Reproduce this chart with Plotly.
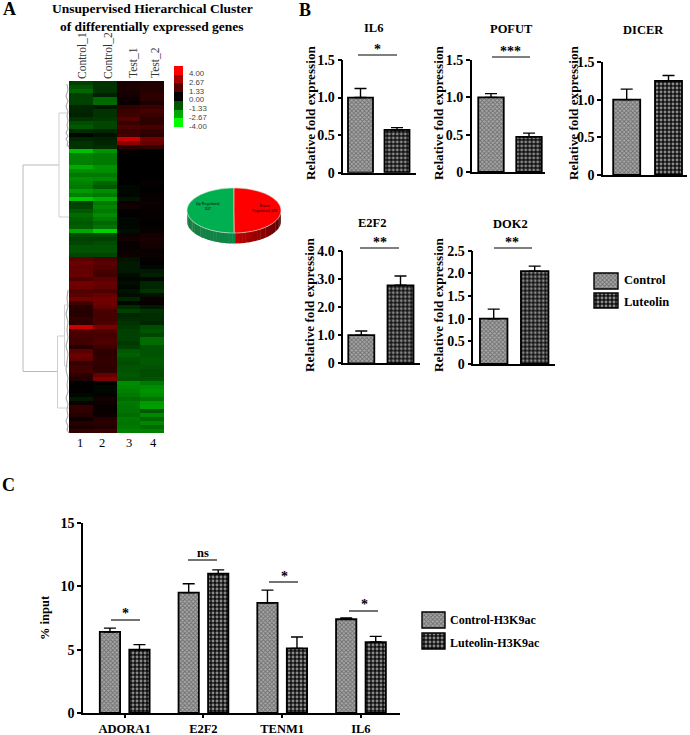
import math
import plotly.graph_objects as go

W, H = 690, 735
SERIF = "Liberation Serif"
SANS = "Liberation Sans"

# ---------- data ----------
samples = ["Control_1", "Control_2", "Test_1", "Test_2"]
control_1 = [-1,-1.3,-1.6,-1,-1,-1,-.6,-.6,-.5,-.8,-1.2,-1.4,-.7,-.1,-.6,-.8,-.8,-3,-2,-2,-2,-2.7,
             -2.2,-1.9,-2.2,-2,-1.9,-2.4,-2,-3.1,-1,-1.1,-1.4,-1.7,-1.5,-1.4,-1.5,-2.6,-1.2,-1,-1.1,-1.3,-1.3,-1.1,
             1.4,1.7,1.5,1.6,1.6,1.2,1.8,1.7,1.3,1.4,1.8,1,.6,.6,.6,.8,.7,3.2,1.2,1.1,1,1,.6,
             1.4,1.7,1.5,.8,1,1,.7,.5,0,0,0,-.1,-.4,.2,.8,.7,.6,.2,.6,.4,.8]
control_2 = [-.8,-.8,-.8,-.5,-1.6,-1.7,-.4,-.8,-.8,-.9,-1.1,-1.1,-.6,-.3,-.5,-.6,-.7,-2.3,-1.9,-1.9,-1.9,-2.3,
             -2.2,-1.9,-2.1,-1.6,-1.4,-2.2,-1.9,-2.7,-1.9,-2.1,-1.9,-2.2,-1.9,-1.6,-1.8,-3.3,-1.2,-1,-1.2,-1.3,-1.3,-1.1,
             1.2,1.4,1.3,1.1,1,1.4,1.6,1.5,1.2,1.6,1.8,1.7,1.5,1.1,1.1,1.1,1.2,1.9,1.2,1.1,1.2,1.2,1,
             .7,.7,.8,.8,.7,.8,1.6,2,0,-.1,-.1,.1,.3,.2,.1,.1,.2,.6,.7,.5,.9]
test_1 = [.4,.4,.4,.3,.2,.1,.8,.9,1,1.3,.9,1.2,.9,1,3.2,2.2,.7,.1,0,0,0,0,
          0,0,0,0,-.1,-.1,-.1,-.3,.2,.3,0,0,-.1,-.1,-.1,-.2,.2,.3,.1,.1,.2,.2,
          -.3,-.4,-.4,-.4,-.2,-.1,-.2,-.1,-.3,-.2,-.6,-.1,-.7,-1,-.6,-.7,-.8,-.9,-1,-1,-1,-.9,-1,
          -1.4,-1.5,-1.3,-1.2,-1.3,-1.3,-1.4,-1.3,-2.2,-2.1,-2,-1.9,-1.7,-1.9,-1.8,-1.8,-1.7,-1.9,-1.8,-1.9,-2]
test_2 = [.5,.5,.6,.7,.7,.4,.9,1.1,.9,.7,.7,1.1,.8,.7,1.8,1.6,.8,0,0,0,0,0,
          0,0,0,.1,0,0,.1,.1,.2,.1,.1,.1,.1,0,.1,.1,.3,.4,.3,.3,.1,.2,
          .1,0,-.1,-.4,-.5,-.1,-.6,-.6,-.8,-.3,.2,.1,-.4,-.8,-.7,-.7,-.6,-1.2,-1.3,-1.1,-1.7,-1.7,-1.3,
          -1.3,-1.3,-1.4,-1.4,-1.3,-1.2,-1.2,-1.3,-1.9,-2.2,-2.3,-2.2,-1.8,-2.4,-2.5,-1.4,-2.1,-1.6,-2.1,-1.7,-2]
scale_values = [4.00, 2.67, 1.33, 0.00, -1.33, -2.67, -4.00]

pie_labels = ["Up Regulated,\n537", "Down\nRegulated, 535"]
pie_values = [537, 535]

groups = ["Control", "Luteolin"]
il6_mean, il6_err = [1.00, 0.57], [0.12, 0.03]
pofut_mean, pofut_err = [1.00, 0.47], [0.05, 0.05]
dicer_mean, dicer_err = [1.00, 1.25], [0.14, 0.07]
e2f2_mean, e2f2_err = [1.00, 2.77], [0.15, 0.33]
dok2_mean, dok2_err = [1.00, 2.05], [0.21, 0.11]

genes_c = ["ADORA1", "E2F2", "TENM1", "IL6"]
h3k9_control = [6.4, 9.5, 8.7, 7.4]
h3k9_control_err = [0.3, 0.7, 1.0, 0.1]
h3k9_luteolin = [5.0, 11.0, 5.1, 5.6]
h3k9_luteolin_err = [0.4, 0.3, 0.9, 0.45]
sig_c = ["*", "ns", "*", "*"]

# ---------- helpers ----------
fig = go.Figure()
layout = {}
naxes = [0]

def new_axes(x0, x1, y0, y1, xa, ya):
    naxes[0] += 1
    n = naxes[0]
    s = "" if n == 1 else str(n)
    xa = dict(xa, domain=[x0 / W, x1 / W], anchor="y" + s, automargin=False)
    ya = dict(ya, domain=[1 - y1 / H, 1 - y0 / H], anchor="x" + s, automargin=False)
    layout["xaxis" + s] = xa
    layout["yaxis" + s] = ya
    return "x" + s, "y" + s

CTRL = dict(shape="x", size=3, solidity=0.5, fgcolor="#333333", bgcolor="#a8a8a8")
LUT = dict(shape=".", size=4, solidity=0.42, fgcolor="#ffffff", bgcolor="#111111")

def axis_base():
    return dict(showgrid=False, zeroline=False, showline=True, linecolor="black",
                ticks="outside", tickcolor="black", fixedrange=True,
                tickfont=dict(family=SERIF, size=14, color="black", weight=700))

def bar_panel(box, c1, c2, w, means, errs, top, ticks, ticktext):
    x0, x1, y0, y1 = box
    u = c2 - c1
    xa = axis_base(); ya = axis_base()
    xa.update(type="linear", range=[(x0 - c1) / u, (x1 - c1) / u], showticklabels=False,
              ticks="", linewidth=2)
    ya.update(range=[0, top], tickvals=ticks, ticktext=ticktext, linewidth=1.5, ticklen=4, tickwidth=1.5)
    xr, yr = new_axes(x0, x1, y0, y1, xa, ya)
    for i, (m, e, pat) in enumerate(zip(means, errs, [CTRL, LUT])):
        fig.add_trace(go.Bar(x=[i], y=[m], name=groups[i], width=w / u, xaxis=xr, yaxis=yr,
                             marker=dict(pattern=pat, line=dict(color="black", width=1.8)),
                             error_y=dict(type="data", symmetric=False, array=[e], arrayminus=[0],
                                          color="black", thickness=1.4, width=6)))

# ---------- heat map ----------
rows = list(range(len(control_1)))
hx, hy = new_axes(69, 164, 81, 433,
                  dict(visible=False, fixedrange=True),
                  dict(visible=False, autorange="reversed", fixedrange=True))
cs = [[0, "#00ff00"], [0.5, "#000000"], [1, "#ff0000"]]
fig.add_trace(go.Heatmap(z=[list(r) for r in zip(control_1, control_2, test_1, test_2)],
                         x=samples, y=rows, xaxis=hx, yaxis=hy, zmin=-4, zmax=4,
                         colorscale=cs, showscale=False))

# colour key
kx, ky = new_axes(174, 183, 66, 127,
                  dict(visible=False, fixedrange=True),
                  dict(visible=False, autorange="reversed", fixedrange=True))
fig.add_trace(go.Heatmap(z=[[v] for v in scale_values], y=[f"{v:.2f}" for v in scale_values],
                         x=["key"], xaxis=kx, yaxis=ky, zmin=-4, zmax=4, colorscale=cs, showscale=False))

# ---------- panel B ----------
bar_panel((343.3, 416, 60, 172.7), 360.5, 397, 25, il6_mean, il6_err, 1.5, [0, .5, 1, 1.5], ["0", "0.5", "1.0", "1.5"])
bar_panel((471.7, 545, 60, 172), 491, 529, 25.5, pofut_mean, pofut_err, 1.5, [0, .5, 1, 1.5], ["0", "0.5", "1.0", "1.5"])
bar_panel((603, 687, 62, 175), 626.7, 668.5, 27, dicer_mean, dicer_err, 1.5, [0, .5, 1, 1.5], ["0", "0.5", "1.0", "1.5"])
bar_panel((343.3, 420, 250.7, 363.3), 361.3, 400.5, 26, e2f2_mean, e2f2_err, 4, [0, 1, 2, 3, 4], ["0", "1.0", "2.0", "3.0", "4.0"])
bar_panel((473.3, 555, 250.7, 364), 493.7, 534.7, 27.5, dok2_mean, dok2_err, 2.5, [0, .5, 1, 1.5, 2, 2.5], ["0", "0.5", "1.0", "1.5", "2.0", "2.5"])

# ---------- panel C ----------
xa = axis_base(); ya = axis_base()
u = 79.5  # pixels per gene
c_first = 122.0
xa.update(type="linear", range=[(80 - c_first) / u, (400 - c_first) / u], tickvals=list(range(4)),
          ticktext=genes_c, linewidth=2, ticklen=3, tickwidth=1.5)
xa["tickfont"] = dict(family=SERIF, size=12.5, color="black", weight=700)
ya.update(range=[0, 15], tickvals=[0, 5, 10, 15], linewidth=1.5, ticklen=4, tickwidth=1.5)
cxr, cyr = new_axes(83, 400, 523, 713, xa, ya)
for series, err, pat, name, off in ((h3k9_control, h3k9_control_err, CTRL, "Control-H3K9ac", -14.8),
                                    (h3k9_luteolin, h3k9_luteolin_err, LUT, "Luteolin-H3K9ac", 15.0)):
    fig.add_trace(go.Bar(x=[i + off / u for i in range(4)], y=series, name=name, width=20.5 / u,
                         xaxis=cxr, yaxis=cyr,
                         marker=dict(pattern=pat, line=dict(color="black", width=1.8)),
                         error_y=dict(type="data", symmetric=False, array=err, arrayminus=[0] * 4,
                                      color="black", thickness=1.4, width=6)))

# ---------- pixel canvas for annotation-style items ----------
cx, cy = new_axes(0, W, 0, H,
                  dict(visible=False, range=[0, W], autorange=False, fixedrange=True),
                  dict(visible=False, range=[H, 0], autorange=False, fixedrange=True))

def line(xs, ys, color="black", width=1.0):
    fig.add_trace(go.Scatter(x=xs, y=ys, mode="lines", xaxis=cx, yaxis=cy,
                             line=dict(color=color, width=width), hoverinfo="skip"))

# dendrogram
DG = "#b9b9b9"
line([59, 23, 23, 57], [165, 165, 371.5, 371.5], DG)
line([68, 59, 59, 69], [113, 113, 217, 217], "#cfcfcf")
line([64, 57.5, 57.5, 69], [336, 336, 408, 408], "#cfcfcf")
line([68, 64.5, 64.5, 68], [305, 305, 366, 366], "#cfcfcf")
line([67, 68, 66, 68, 66, 68, 67, 68, 67, 68, 66, 68, 66, 68, 67, 69],
     [84, 90, 96, 101, 106, 112, 116, 121, 125, 129, 133, 136, 139, 142, 145, 147], "#a8a8a8", 1.1)
line([68, 67, 68, 66, 68, 67, 68, 66, 68, 67, 66, 68, 67, 68, 66, 68, 67, 68, 66, 68, 67, 69],
     [290, 298, 306, 314, 322, 330, 338, 346, 354, 362, 370, 378, 385, 392, 398, 404, 410, 416, 421, 426, 430, 433], "#a8a8a8", 1.1)

# significance bars
for xs, y in (([358, 397], 55), ([492, 530], 57), ([360, 399], 248), ([494, 532], 248),
              ([111, 140], 620), ([188, 217], 560), ([269, 298], 582), ([349, 378], 611)):
    line(xs, [y, y], width=1.1)

# legend swatches
for (xa_, xb, ya_, yb, pat, name) in ((594, 618, 273, 289, CTRL, "Control"), (594, 618, 293, 308, LUT, "Luteolin"),
                                      (422, 445, 612, 628, CTRL, "Control-H3K9ac"), (422, 445, 633, 649, LUT, "Luteolin-H3K9ac")):
    fig.add_trace(go.Bar(x=[(xa_ + xb) / 2], y=[yb - ya_], base=[ya_], width=xb - xa_, xaxis=cx, yaxis=cy, name=name,
                         marker=dict(pattern=pat, line=dict(color="black", width=1.4))))

# pie (extruded, tilted)
pcx, pcy, rx, ry, depth = 234.0, 210.5, 47.0, 22.5, 10.5

def ell(a):
    return pcx + rx * math.cos(math.radians(a)), pcy - ry * math.sin(math.radians(a))

def mix(c1, c2, t):
    return "rgb(%d,%d,%d)" % tuple(round(p + (q - p) * t) for p, q in zip(c1, c2))

shapes = []
steps = 45
for k in range(steps):
    a0 = 180 + 180 * k / steps
    a1 = 180 + 180 * (k + 1) / steps + 0.6
    if a0 < 270:
        col = mix((30, 120, 65), (10, 135, 70), (a0 - 180) / 90)
    else:
        col = mix((190, 0, 0), (60, 0, 0), (a0 - 270) / 90)
    (xa_, ya_), (xb, yb) = ell(a0), ell(a1)
    shapes.append(dict(type="path", xref=cx, yref=cy, line_width=0, fillcolor=col,
                       path=f"M{xa_:.2f},{ya_:.2f} L{xb:.2f},{yb:.2f} L{xb:.2f},{yb + depth:.2f} L{xa_:.2f},{ya_ + depth:.2f} Z"))

def wedge(a0, a1, color):
    n = 40
    pts = [ell(a0 + (a1 - a0) * i / n) for i in range(n + 1)]
    d = f"M{pcx},{pcy} " + " ".join(f"L{x:.2f},{y:.2f}" for x, y in pts) + " Z"
    return dict(type="path", xref=cx, yref=cy, fillcolor=color, line=dict(color="#dfe8df", width=0.6), path=d)

shapes.append(wedge(90, 90 + 360 * pie_values[0] / sum(pie_values), "#00b050"))
shapes.append(wedge(90 + 360 * pie_values[0] / sum(pie_values), 450, "#ff0000"))
layout["shapes"] = shapes

# texts
def t(x, y, s, size=13, family=SERIF, bold=True, color="black", angle=0, anchor="center"):
    return dict(x=x, y=y, xref=cx, yref=cy, text=s, showarrow=False, textangle=angle, xanchor=anchor,
                yanchor="middle", align="center", font=dict(family=family, size=size, color=color, weight=700 if bold else 400))

ann = [
    t(9, 9, "A", 18), t(305, 10, "B", 18), t(8, 485, "C", 18),
    t(152, 8, "Unsupervised Hierarchical Cluster", 13.5),
    t(152, 26, "of differentially expressed genes", 13.5),
    t(82, 56, samples[0], 11.5, bold=False, color="#333", angle=-90),
    t(108, 56, samples[1], 11.5, bold=False, color="#333", angle=-90),
    t(133, 63, samples[2], 11.5, bold=False, color="#333", angle=-90),
    t(155, 63, samples[3], 11.5, bold=False, color="#333", angle=-90),
    t(80, 443, "1", 12.5, bold=False), t(101.5, 443, "2", 12.5, bold=False),
    t(129, 443, "3", 12.5, bold=False), t(153, 443, "4", 12.5, bold=False),
    t(373, 28, "IL6", 12.5), t(511, 29, "POFUT", 12.5), t(643, 30, "DICER", 12.5),
    t(372, 223, "E2F2", 12.5), t(510, 224, "DOK2", 12.5),
    t(377, 49, "*", 14), t(510, 51, "***", 14), t(380, 242, "**", 14), t(512, 242, "**", 14),
    t(125, 613, sig_c[0], 14), t(203, 553, sig_c[1], 12.5), t(284, 576, sig_c[2], 14), t(364, 604, sig_c[3], 14),
    t(622, 280, "Control", 12.5, anchor="left"), t(622, 302, "Luteolin", 12.5, anchor="left"),
    t(448, 620, "Control-H3K9ac", 12, anchor="left"), t(448, 643, "Luteolin-H3K9ac", 12, anchor="left"),
    t(45, 618, "% input", 12.5, angle=-90),
]
for x, y in ((310, 113), (438, 113), (573, 113), (309, 305), (438, 305)):
    ann.append(t(x, y, "Relative fold expression", 13.2, angle=-90))
for v, y in zip(scale_values, (73.5, 82, 91, 99.5, 108.5, 117, 126)):
    ann.append(t(187, y, f"{v:.2f}", 7.8, family=SANS, bold=False, color="#444", anchor="left"))
ann.append(t(208, 206, pie_labels[0].replace("\n", "<br>"), 3.6, family=SANS, color="#0b3d20"))
ann.append(t(264, 208, pie_labels[1].replace("\n", "<br>"), 3.6, family=SANS, color="#5a0000"))
layout["annotations"] = ann

fig.update_layout(width=W, height=H, autosize=False, margin=dict(l=0, r=0, t=0, b=0),
                  plot_bgcolor="rgba(0,0,0,0)", paper_bgcolor="white", showlegend=False, barmode="overlay",
                  **layout)
fig.write_html("out.html", post_script="document.body.style.margin='0';document.documentElement.style.overflow='hidden';",
               config=dict(displayModeBar=False))
